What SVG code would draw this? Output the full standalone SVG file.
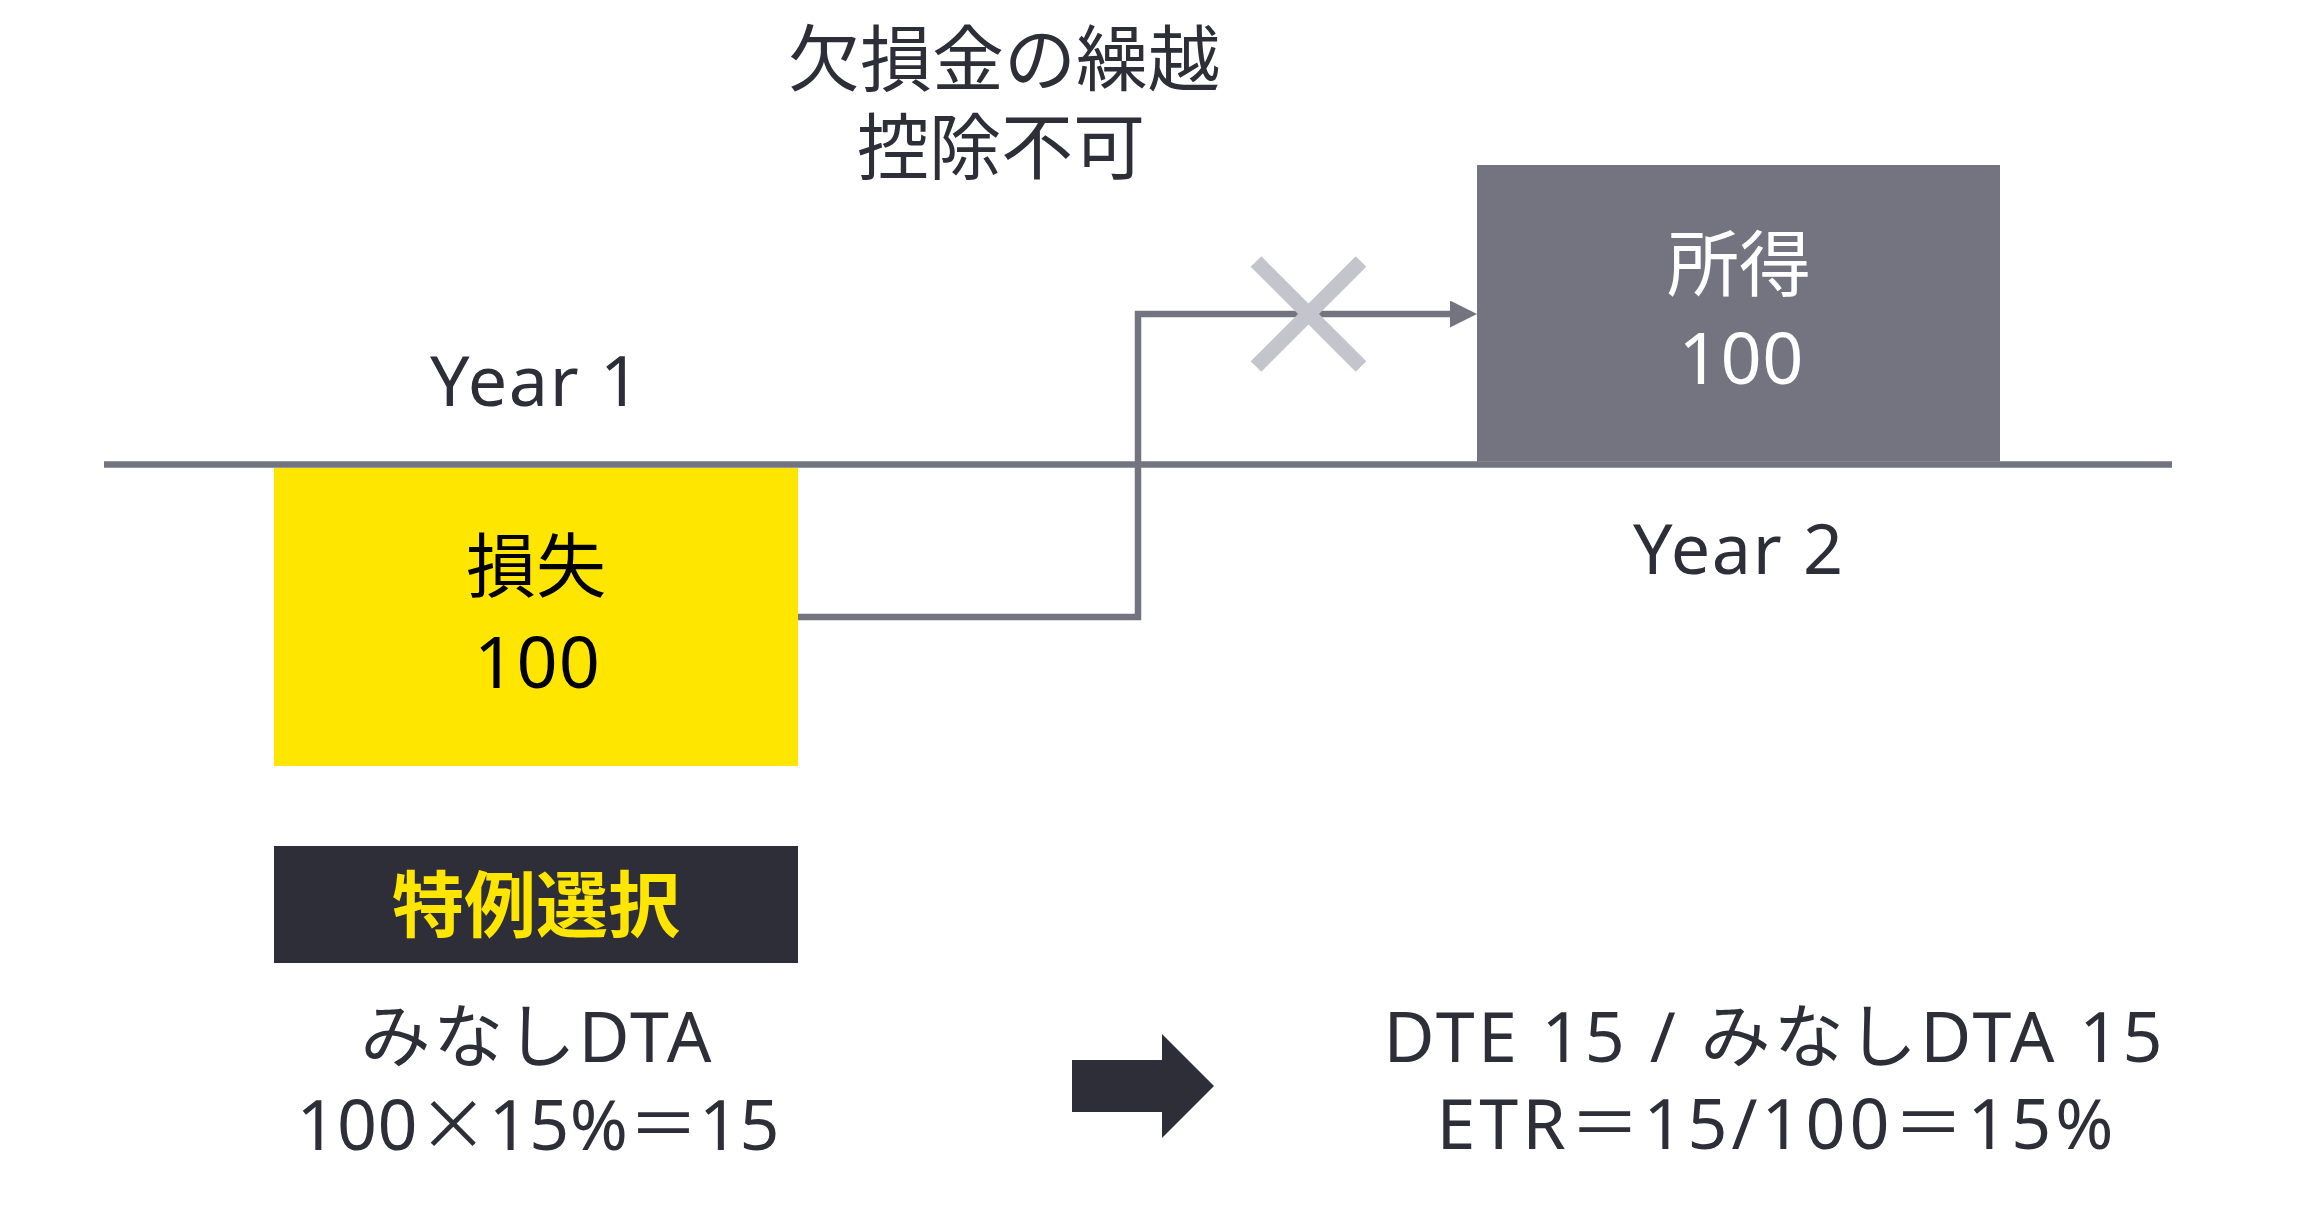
<svg xmlns="http://www.w3.org/2000/svg" width="2308" height="1221" viewBox="0 0 2308 1221">
  <style>
    text { font-family: "Noto Sans", "Noto Sans CJK JP", sans-serif; text-anchor: middle; }
    .dk { fill: #2E2E38; }
    .t70 { font-size: 70px; }
    .t72 { font-size: 72px; }
    .cjk { font-family: "Noto Sans CJK JP", sans-serif; }
    .conn { fill: none; stroke: #747480; stroke-width: 6.5; stroke-linejoin: miter; }
  </style>
  <defs>
    <marker id="ah" viewBox="0 0 27 27" refX="0" refY="13.5" markerWidth="27" markerHeight="27" markerUnits="userSpaceOnUse" orient="auto">
      <path d="M0,0 L27,13.5 L0,27 Z" fill="#747480"/>
    </marker>
  </defs>
  <rect width="2308" height="1221" fill="#FFFFFF"/>

  <g id="title">
    <text class="dk t72" x="1004" y="85">欠損金の繰越</text>
    <text class="dk t72" x="1001" y="173">控除不可</text>
  </g>

  <g id="timeline">
    <line x1="104" y1="464.5" x2="2172" y2="464.5" stroke="#747480" stroke-width="6.5"/>
    <text class="dk t70" x="535" y="406" textLength="210" lengthAdjust="spacing">Year 1</text>
    <text class="dk t70" x="1738" y="574" textLength="210" lengthAdjust="spacing">Year 2</text>
  </g>

  <g id="loss">
    <rect x="274" y="468" width="524" height="298" fill="#FFE600"/>
    <text class="t70" x="536" y="592" fill="#000000">損失</text>
    <text class="t72" x="537" y="688" fill="#000000" textLength="126" lengthAdjust="spacing">100</text>
  </g>

  <g id="income">
    <rect x="1477" y="165" width="523" height="296.5" fill="#747480"/>
    <text class="t72" x="1739" y="290" fill="#FFFFFF">所得</text>
    <text class="t72" x="1741" y="384" fill="#FFFFFF" textLength="125" lengthAdjust="spacing">100</text>
  </g>

  <g id="connectors">
    <polyline class="conn" points="798,617 1138,617 1138,314 1450,314" marker-end="url(#ah)"/>
  </g>

  <g id="cross">
    <line x1="1256" y1="261.5" x2="1361" y2="366.5" stroke="#C4C4CD" stroke-width="15"/>
    <line x1="1361" y1="261.5" x2="1256" y2="366.5" stroke="#C4C4CD" stroke-width="15"/>
  </g>

  <g id="special">
    <rect x="274" y="846" width="524" height="117" fill="#2E2E38"/>
    <text class="t72" x="536" y="931" fill="#FFE600" font-weight="bold">特例選択</text>
  </g>

  <g id="left-calc">
    <text class="dk t70" x="536" y="1062" textLength="351" lengthAdjust="spacing">みなしDTA</text>
    <text class="dk t70" x="538" y="1150" textLength="483" lengthAdjust="spacing">100<tspan class="cjk">×</tspan>15%＝15</text>
  </g>

  <g id="block-arrow">
    <polygon points="1072,1060 1162,1060 1162,1034 1214,1086 1162,1138 1162,1112 1072,1112" fill="#2E2E38"/>
  </g>

  <g id="right-calc">
    <text class="dk t70" x="1773" y="1062" textLength="779" lengthAdjust="spacing">DTE 15 / みなしDTA 15</text>
    <text class="dk t70" x="1775" y="1149" textLength="677" lengthAdjust="spacing">ETR＝15/100＝15%</text>
  </g>
</svg>
